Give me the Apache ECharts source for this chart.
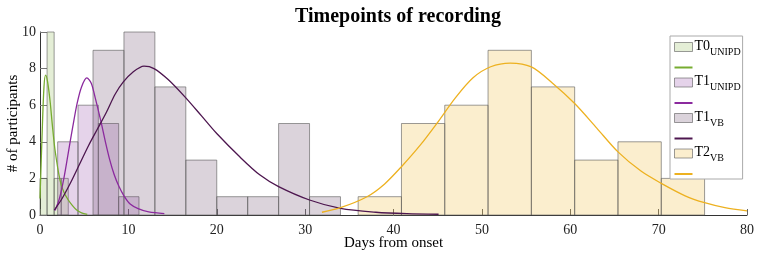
<!DOCTYPE html>
<html>
<head>
<meta charset="utf-8">
<script src="https://cdn.jsdelivr.net/npm/echarts@6/dist/echarts.min.js"></script>
<style>
  html, body { margin: 0; padding: 0; background: #fff; }
  #chart { width: 759px; height: 255px; }
</style>
</head>
<body>
<div id="chart"></div>
<script>
// histogram bins (edges) and counts per group
const t0Edges = [0, 0.8, 1.6, 2.4, 3.2]
const t0Counts = [2, 10, 2, 2]
const t1uEdges = [2, 4.3, 6.6, 8.9, 11.2]
const t1uCounts = [4, 6, 5, 1]
const t1vEdges = [6, 9.5, 13, 16.5, 20, 23.5, 27, 30.5, 34]
const t1vCounts = [9, 10, 7, 3, 1, 1, 5, 1]
const t2Edges = [36, 40.9, 45.8, 50.7, 55.6, 60.5, 65.4, 70.3, 75.2]
const t2Counts = [1, 5, 6, 9, 7, 3, 4, 2]

// fitted curves
const t0FitX = [0, 0.23, 0.45, 0.64, 0.85, 1.13, 1.4, 1.7, 2.26, 2.7, 3.2, 3.7, 4.15, 4.7, 5.35]
const t0FitY = [0.9, 4.3, 7.0, 7.64, 7.3, 6.27, 4.9, 3.55, 1.91, 1.25, 0.82, 0.5, 0.27, 0.12, 0.04]
const t1uFitX = [1.7, 2.2, 2.7, 3.2, 3.7, 4.2, 4.7, 5.3, 5.8, 6.3, 6.9, 7.4, 7.9, 8.4, 8.9, 9.5, 10.2, 11.1, 12.3, 14.07]
const t1uFitY = [0.24, 0.9, 2.0, 3.4, 4.8, 6.1, 7.0, 7.49, 7.2, 6.3, 5.1, 4.0, 3.0, 2.2, 1.6, 1.05, 0.6, 0.35, 0.17, 0.08]
const t1vFitX = [1.62, 2.5, 3.5, 4.5, 5.5, 6.5, 7.5, 8.5, 9.43, 10.5, 11.77, 12.9, 14.5, 16.5, 18.3, 20, 22.6, 24.9, 27, 30.5, 34, 38, 41.5, 45.1]
const t1vFitY = [0.27, 0.9, 1.8, 2.8, 3.8, 4.7, 5.6, 6.6, 7.27, 7.8, 8.13, 8.0, 7.4, 6.4, 5.4, 4.45, 3.18, 2.18, 1.55, 0.82, 0.36, 0.15, 0.07, 0.04]
const t2FitX = [31.9, 34, 37, 39, 40.9, 43, 44.9, 47, 49, 51, 53.2, 55.6, 58, 60.5, 63, 65.4, 68, 70.3, 73, 75.2, 77.5, 80]
const t2FitY = [0.15, 0.4, 1.0, 1.7, 2.64, 3.8, 5.0, 6.4, 7.5, 8.1, 8.3, 8.09, 7.2, 6.09, 4.75, 3.45, 2.4, 1.73, 1.05, 0.67, 0.4, 0.23]

const serif = 'Liberation Serif'
const edgeColor = 'rgba(90, 90, 90, 0.6)'

const groups = [
  { name: 'T0', sub: 'UNIPD', edges: t0Edges, counts: t0Counts, fitX: t0FitX, fitY: t0FitY,
    fill: 'rgba(120, 170, 50, 0.2)', line: '#77ac30' },
  { name: 'T1', sub: 'UNIPD', edges: t1uEdges, counts: t1uCounts, fitX: t1uFitX, fitY: t1uFitY,
    fill: 'rgba(150, 80, 170, 0.25)', line: '#8b2a9e' },
  { name: 'T1', sub: 'VB', edges: t1vEdges, counts: t1vCounts, fitX: t1vFitX, fitY: t1vFitY,
    fill: 'rgba(110, 80, 110, 0.25)', line: '#4d164f' },
  { name: 'T2', sub: 'VB', edges: t2Edges, counts: t2Counts, fitX: t2FitX, fitY: t2FitY,
    fill: 'rgba(237, 177, 32, 0.22)', line: '#edb120' }
]

const series = []
const legendData = []
const labels = {}

groups.forEach((g, i) => {
  const key = g.name + '_' + g.sub
  const bins = g.counts.map((c, k) => [g.edges[k], g.edges[k + 1], c])
  series.push({
    name: key,
    type: 'custom',
    data: bins,
    encode: { x: [0, 1], y: 2 },
    z: 2,
    itemStyle: { color: g.fill, borderColor: edgeColor, borderWidth: 1 },
    renderItem: (params, api) => {
      const a = api.coord([api.value(0), 0])
      const b = api.coord([api.value(1), api.value(2)])
      return {
        type: 'rect',
        shape: { x: a[0], y: b[1], width: b[0] - a[0], height: a[1] - b[1] },
        style: { fill: g.fill, stroke: edgeColor, lineWidth: 1 }
      }
    }
  })
  series.push({
    name: key + ' fit',
    type: 'line',
    data: g.fitX.map((x, k) => [x, g.fitY[k]]),
    smooth: 0.3,
    showSymbol: false,
    z: 5,
    lineStyle: { color: g.line, width: 1.3 },
    itemStyle: { color: g.line }
  })
  labels[key] = '{m|' + g.name + '}{s|' + g.sub + '}'
  labels[key + ' fit'] = ''
  legendData.push({ name: key, icon: 'rect', itemStyle: { color: g.fill, borderColor: edgeColor, borderWidth: 1 } })
  legendData.push({ name: key + ' fit', icon: 'path://M0,0H18V2H0Z', itemStyle: { color: g.line, borderWidth: 0 } })
})

const chart = echarts.init(document.getElementById('chart'))

chart.setOption({
  animation: false,
  title: {
    text: 'Timepoints of recording',
    left: 393,
    textAlign: 'center',
    top: 2,
    textStyle: { fontFamily: serif, fontSize: 20, fontWeight: 'bold', color: '#000' }
  },
  legend: {
    orient: 'vertical',
    left: 670,
    top: 36,
    data: legendData,
    itemWidth: 18,
    itemHeight: 9,
    itemGap: 6,
    padding: [3, 2, 4, 4],
    backgroundColor: '#fff',
    borderColor: '#aaa',
    borderWidth: 1,
    borderRadius: 0,
    formatter: name => labels[name],
    textStyle: {
      fontFamily: serif,
      color: '#000',
      padding: [0, 0, 0, -3],
      rich: {
        m: { fontFamily: serif, fontSize: 14, lineHeight: 16, verticalAlign: 'top', color: '#000' },
        s: { fontFamily: serif, fontSize: 10, lineHeight: 12, padding: [8, 0, 0, 0], verticalAlign: 'top', color: '#000' }
      }
    }
  },
  grid: { left: 40, right: 12, top: 32, bottom: 40, outerBoundsMode: 'none' },
  xAxis: {
    type: 'value',
    min: 0,
    max: 80,
    interval: 10,
    name: 'Days from onset',
    nameLocation: 'middle',
    nameGap: 21,
    nameMoveOverlap: false,
    nameTextStyle: { fontFamily: serif, fontSize: 15, color: '#000' },
    axisLine: { lineStyle: { color: '#333', width: 1 } },
    axisTick: { inside: true, length: 6, lineStyle: { color: '#666' } },
    axisLabel: { fontFamily: serif, fontSize: 14, color: '#222', margin: 8 },
    splitLine: { show: false }
  },
  yAxis: {
    type: 'value',
    min: 0,
    max: 10,
    interval: 2,
    name: '# of participants',
    nameLocation: 'middle',
    nameGap: 19,
    nameMoveOverlap: false,
    nameTextStyle: { fontFamily: serif, fontSize: 15, color: '#000' },
    axisLine: { show: true, lineStyle: { color: '#333', width: 1 } },
    axisTick: { show: true, inside: true, length: 7, lineStyle: { color: '#777' } },
    axisLabel: { fontFamily: serif, fontSize: 14, color: '#222', margin: 4 },
    splitLine: { show: false }
  },
  series: series
})
</script>
</body>
</html>
